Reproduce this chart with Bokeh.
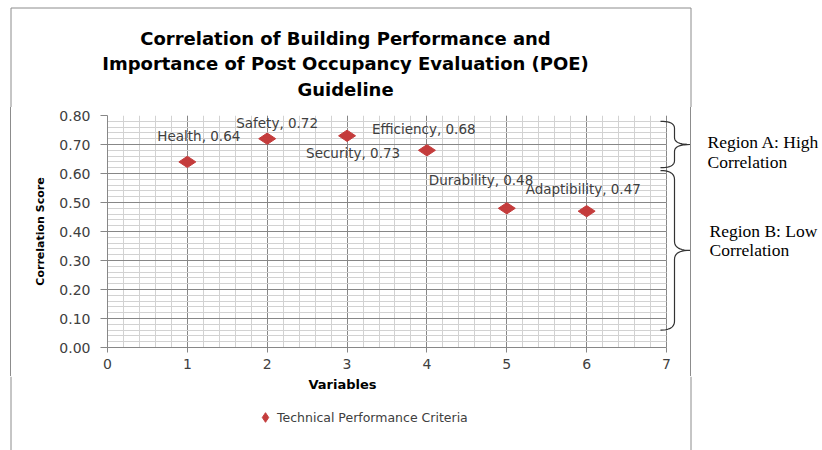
import math
from bokeh.plotting import figure
from bokeh.layouts import row, column
from bokeh.models import (Range1d, SingleIntervalTicker, NumeralTickFormatter, Label, LabelSet,
                          ColumnDataSource, Legend, LegendItem, Spacer)
from bokeh.core.properties import value
from bokeh.embed import file_html
from bokeh.resources import INLINE

# ---------------- data ----------------
title_lines = ["Correlation of Building Performance and",
               "Importance of Post Occupancy Evaluation (POE)",
               "Guideline"]
variables = ["Health", "Safety", "Security", "Efficiency", "Durability", "Adaptibility"]
variable_index = [1, 2, 3, 4, 5, 6]
correlation_scores = [0.64, 0.72, 0.73, 0.68, 0.48, 0.47]
series_name = "Technical Performance Criteria"
x_axis_title = "Variables"
y_axis_title = "Correlation Score"
x_max, y_max = 7, 0.8
region_names = ["Region A: High", "Region B: Low"]
region_second_line = ["Correlation", "Correlation"]
region_top = [0.78, 0.61]
region_bottom = [0.62, 0.06]

# label placement (pixels, right / up from each point)
label_dx = [-30, -31, -41, -55, -78, -61]
label_dy = [26, 16, -17, 21, 28, 22]

# ---------------- styles / geometry ----------------
RED = "#C43C3C"
MAJOR = "#878787"
MINOR = "#d2d2d2"
TXT = "#404040"
BORDER = "#8c8c8c"

PAGE_W, PAGE_H = 822, 450
HEAD_H = 107                 # header with title
BOX_L, BOX_T, BOX_R = 10.5, 7.5, 690.5   # chart box edges
LEFT_W = 10                  # blank strip left of the box
LW = 679                     # chart figure width
BL, BT, BB = 96, 8, 29       # borders of the chart frame
FRAME_H = 232
LH = BT + FRAME_H + BB
FOOT_H = PAGE_H - HEAD_H - LH
PLOT_W = 559                 # width in px of the 0..7 area
RW = PAGE_W - LEFT_W - 1 - LW - 1   # right-hand figure
frame_w = LW - BL
KX = PLOT_W / x_max          # px per x unit
KY = FRAME_H / y_max         # px per y unit


def blank(w, h, xr, yr):
    f = figure(width=w, height=h, output_backend="svg", toolbar_location=None,
               title_location=None, x_range=xr, y_range=yr,
               min_border_left=0, min_border_right=0, min_border_top=0, min_border_bottom=0)
    f.axis.visible = False
    f.grid.visible = False
    f.outline_line_color = None
    f.background_fill_color = "white"
    f.border_fill_color = "white"
    return f


# ---------------- header: title + top of the box ----------------
head = blank(PAGE_W, HEAD_H, Range1d(0, PAGE_W), Range1d(HEAD_H, 0))
head.segment(x0=[BOX_L, BOX_L, BOX_R], y0=[BOX_T, BOX_T, BOX_T],
             x1=[BOX_R, BOX_L, BOX_R], y1=[BOX_T, HEAD_H, HEAD_H],
             line_color=BORDER, line_width=1)
for i, line in enumerate(title_lines):
    head.add_layout(Label(x=345, y=37.5 + 25.5 * i, text=line, text_align="center",
                          text_baseline="middle", text_font="DejaVu Sans",
                          text_font_style="bold", text_font_size="18px", text_color="black"))

# ---------------- left blank strip and box edges (1px columns) ----------------
left_strip = blank(LEFT_W, LH, Range1d(0, LEFT_W), Range1d(0, 1))
edge_left = Spacer(width=1, height=LH, styles={"background-color": BORDER})
edge_right = Spacer(width=1, height=LH, styles={"background-color": BORDER})

# ---------------- chart ----------------
p = figure(width=LW, height=LH, output_backend="svg", toolbar_location=None,
           title_location=None,
           x_range=Range1d(0, frame_w / KX), y_range=Range1d(0, y_max),
           min_border_left=BL, min_border_right=0, min_border_top=BT, min_border_bottom=BB)
p.background_fill_color = "white"
p.border_fill_color = "white"
p.outline_line_color = None

p.xaxis.ticker = SingleIntervalTicker(interval=1, num_minor_ticks=5)
p.yaxis.ticker = SingleIntervalTicker(interval=0.1, num_minor_ticks=5)
p.yaxis.formatter = NumeralTickFormatter(format="0.00")
p.xaxis.bounds = (0, x_max)
p.xgrid.ticker = p.xaxis.ticker
p.ygrid.ticker = p.yaxis.ticker
p.xgrid.bounds = (0, x_max)
p.xgrid.cross_bounds = (0, y_max)
p.ygrid.bounds = (0, y_max)
p.ygrid.cross_bounds = (0, x_max)
for g in (p.xgrid, p.ygrid):
    g.grid_line_color = MAJOR
    g.grid_line_width = 1
    g.minor_grid_line_color = MINOR
    g.minor_grid_line_width = 1

for ax in (p.xaxis, p.yaxis):
    ax.axis_line_color = MAJOR
    ax.major_tick_line_color = MAJOR
    ax.minor_tick_line_color = None
    ax.major_tick_in = 0
    ax.major_label_text_font = "DejaVu Sans"
    ax.major_label_text_font_size = "14px"
    ax.major_label_text_color = TXT
p.xaxis.major_tick_out = 5
p.xaxis.major_label_standoff = 6
p.yaxis.major_tick_out = 7
p.yaxis.major_label_standoff = 10
p.yaxis.axis_label = y_axis_title
p.yaxis.axis_label_text_font = "DejaVu Sans"
p.yaxis.axis_label_text_font_style = "bold"
p.yaxis.axis_label_text_font_size = "11px"
p.yaxis.axis_label_text_color = "black"
p.yaxis.axis_label_standoff = 9

marker_style = dict(marker="diamond", fill_color=RED, line_color=RED)

src = ColumnDataSource(dict(x=variable_index, y=correlation_scores,
                            txt=[f"{n}, {v:.2f}" for n, v in zip(variables, correlation_scores)],
                            dx=label_dx, dy=label_dy))
p.scatter("x", "y", source=src, size=17, angle=math.pi / 2, **marker_style)

labels = LabelSet(x="x", y="y", text="txt", x_offset="dx", y_offset="dy", source=src,
                  text_font=value("DejaVu Sans"), text_font_size="13.5px", text_color=TXT,
                  text_align="left", text_baseline="middle")
p.add_layout(labels)


# braces (drawn just right of x = 7, in the chart's own scale)
def bez(p0, c, p1, n=10):
    out = []
    for k in range(n + 1):
        t = k / n
        out.append(((1 - t) ** 2 * p0[0] + 2 * (1 - t) * t * c[0] + t ** 2 * p1[0],
                    (1 - t) ** 2 * p0[1] + 2 * (1 - t) * t * c[1] + t ** 2 * p1[1]))
    return out


X0 = x_max - 6 / KX
XM = x_max + 8 / KX
XT = x_max + 23.5 / KX


def brace(y_top, y_bot, rr):
    y_mid = (y_top + y_bot) / 2
    pts = []
    pts += bez((X0, y_top), (XM, y_top), (XM, y_top - rr))
    pts += bez((XM, y_mid + rr), (XM, y_mid), (XT, y_mid))
    pts += bez((XT, y_mid), (XM, y_mid), (XM, y_mid - rr))
    pts += bez((XM, y_bot + rr), (XM, y_bot), (X0, y_bot))
    return [a[0] for a in pts], [a[1] for a in pts]


for top, bot, rpx in zip(region_top, region_bottom, [7, 9]):
    xs, ys = brace(top, bot, rpx / KY)
    p.line(xs, ys, line_color="#333333", line_width=1.2)

# ---------------- right: region texts (same vertical scale) ----------------
y_lo, y_hi = -BB / KY, y_max + BT / KY
q = blank(RW, LH, Range1d(1, RW + 1), Range1d(y_lo, y_hi))
region_offsets = [(5, -15), (8, -11)]
region_x = [17, 19]
for name, second, top, bot, (o1, o2), rx in zip(region_names, region_second_line,
                                                 region_top, region_bottom, region_offsets,
                                                 region_x):
    mid = (top + bot) / 2
    for txt, off in ((name, o1), (second, o2)):
        q.add_layout(Label(x=rx, y=mid, y_offset=off, text=txt, text_align="left",
                           text_baseline="middle", text_font="Liberation Serif",
                           text_font_size="17.5px", text_color="black"))

# ---------------- footer: x axis title + legend ----------------
foot = blank(PAGE_W, FOOT_H, Range1d(0, PAGE_W), Range1d(FOOT_H, 0))
foot.segment(x0=[BOX_L, BOX_R], y0=[0, 0], x1=[BOX_L, BOX_R], y1=[FOOT_H, FOOT_H],
             line_color=BORDER, line_width=1)
foot.add_layout(Label(x=342, y=7.5, text=x_axis_title, text_align="center",
                      text_baseline="middle", text_font="DejaVu Sans", text_font_style="bold",
                      text_font_size="13px", text_color="black"))
# legend proxy (a hidden point, only its style is used by the legend)
legend_glyph = foot.scatter(x=[math.nan], y=[math.nan], size=9, **marker_style)
GL = 24
legend = Legend(items=[LegendItem(label=series_name, renderers=[legend_glyph])],
                location=(253, FOOT_H - 29 - GL), orientation="horizontal",
                border_line_alpha=0, background_fill_alpha=0, padding=0, margin=0, spacing=0,
                glyph_width=GL, glyph_height=GL, label_standoff=0, label_height=GL,
                label_text_font="DejaVu Sans", label_text_font_size="12.5px",
                label_text_color=TXT, label_text_baseline="middle")
foot.add_layout(legend, "center")

layout = column(head, row(left_strip, edge_left, p, edge_right, q), foot)
open("out.html", "w").write(file_html(layout, INLINE))
